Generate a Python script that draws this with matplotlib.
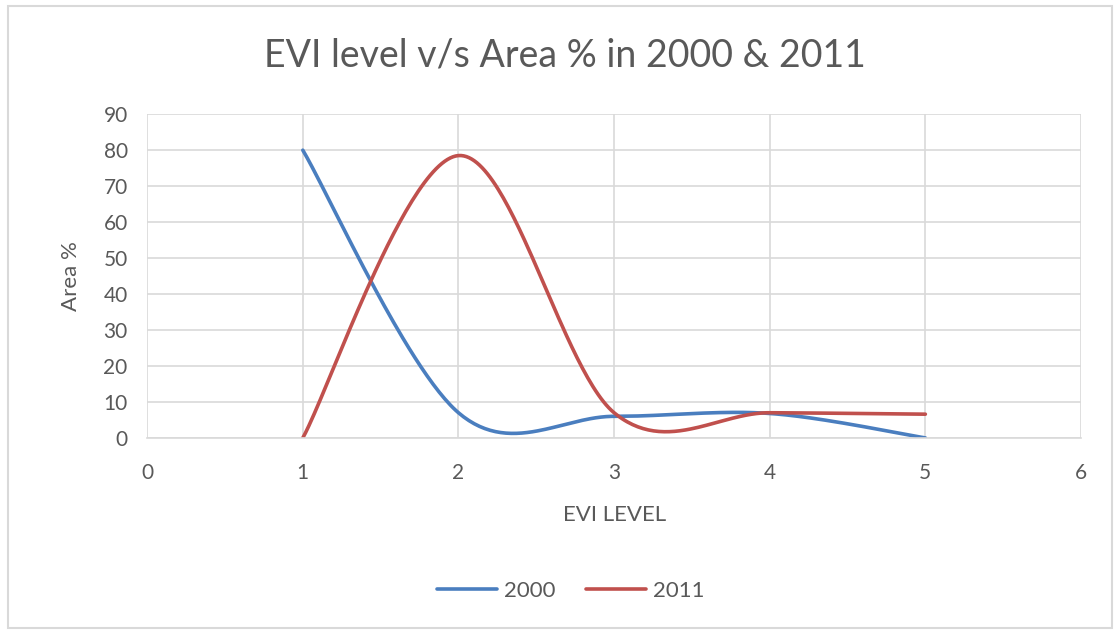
import numpy as np
import matplotlib.pyplot as plt
from matplotlib.patches import Rectangle

plt.rcParams['font.family'] = ['Lato', 'DejaVu Sans']

evi_level = [1, 2, 3, 4, 5]
area_2000 = [80, 7, 6, 6.8, 0]
area_2011 = [0, 78.5, 7, 7, 6.6]


def smooth(xs, ys, n=60):
    # Catmull-Rom style smoothing, like Excel's "smoothed line"
    p = np.column_stack([xs, ys]).astype(float)
    p = np.vstack([p[0], p, p[-1]])
    out = []
    t = np.linspace(0, 1, n)[:, None]
    for i in range(1, len(p) - 2):
        p0, p1, p2, p3 = p[i - 1], p[i], p[i + 1], p[i + 2]
        c1 = p1 + (p2 - p0) / 6
        c2 = p2 - (p3 - p1) / 6
        seg = ((1 - t) ** 3) * p1 + 3 * ((1 - t) ** 2) * t * c1 + 3 * (1 - t) * t ** 2 * c2 + t ** 3 * p2
        out.append(seg)
    out = np.vstack(out)
    return out[:, 0], out[:, 1]


fig = plt.figure(figsize=(11.15, 6.31), dpi=100)
fig.patches.append(Rectangle((0.007, 0.005), 0.99, 0.985, transform=fig.transFigure,
                             fill=False, edgecolor='#d9d9d9', linewidth=1.5))
ax = fig.add_axes([0.132, 0.306, 0.8375, 0.513])

text_col = '#595959'
grid_col = '#d9d9d9'

sx, sy = smooth(evi_level, area_2000)
ax.plot(sx, sy, color='#4a7ebf', linewidth=2.6, label='2000', solid_capstyle='round')
sx, sy = smooth(evi_level, area_2011)
ax.plot(sx, sy, color='#c0504d', linewidth=2.6, label='2011', solid_capstyle='round')

ax.set_xlim(0, 6)
ax.set_ylim(0, 90)
ax.set_xticks(range(0, 7))
ax.set_yticks(range(0, 91, 10))
ax.grid(True, color=grid_col, linewidth=1.2)
ax.set_axisbelow(True)
for s in ['top', 'right', 'left']:
    ax.spines[s].set_visible(False)
ax.spines['bottom'].set_color(grid_col)
ax.spines['bottom'].set_linewidth(1.2)
ax.tick_params(length=0, labelsize=15, colors=text_col)
ax.tick_params(axis='x', pad=18)
ax.tick_params(axis='y', pad=14)

ax.set_xlabel('EVI LEVEL', fontsize=16, color=text_col, labelpad=16)
ax.set_ylabel('Area %', fontsize=16, color=text_col, labelpad=16)
fig.text(0.507, 0.912, 'EVI level v/s Area % in 2000 & 2011', ha='center', va='center',
         fontsize=27, color=text_col)

fig.legend(loc='center', bbox_to_anchor=(0.512, 0.063), ncol=2, frameon=False,
           fontsize=16, labelcolor=text_col, handlelength=2.7, columnspacing=1.4,
           handletextpad=0.3)

plt.savefig('out.png', dpi=100)
